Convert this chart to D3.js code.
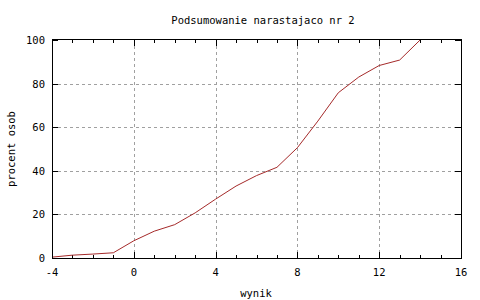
<!DOCTYPE html>
<html><head><meta charset="utf-8">
<script src="https://cdn.jsdelivr.net/npm/d3@7"></script>
<style>body{margin:0;background:#fff}text{font-family:"DejaVu Sans Mono",monospace;font-size:10.5px;fill:#000}</style>
</head><body><svg id="c" width="480" height="300"></svg>
<script>
const scores = [-4,-3,-2,-1,0,1,2,3,4,5,6,7,8,9,10,11,12,13,14];
const percent = [0.4,1.3,1.8,2.4,7.9,12.3,15.3,20.7,27,33,37.8,41.6,50.6,62.8,75.8,83,88.3,90.8,100];
const xTicks = [-4,0,4,8,12,16];
const yTicks = [0,20,40,60,80,100];
const title = "Podsumowanie narastajaco nr 2";
const xLabel = "wynik", yLabel = "procent osob";

const svg = d3.select("#c");
const L=52, R=461, T=40, B=258;
const x = d3.scaleLinear().domain([-4,16]).range([L,R]);
const y = d3.scaleLinear().domain([0,100]).range([B,T]);

// grid
const g = svg.append("g").attr("stroke","#a0a0a0").attr("stroke-dasharray","3,3").attr("shape-rendering","crispEdges");
xTicks.slice(1,-1).forEach(t=>g.append("line").attr("x1",Math.round(x(t))+0.5).attr("x2",Math.round(x(t))+0.5).attr("y1",T).attr("y2",B));
yTicks.slice(1,-1).forEach(t=>g.append("line").attr("y1",Math.round(y(t))+0.5).attr("y2",Math.round(y(t))+0.5).attr("x1",L).attr("x2",R));

// ticks
const tk = svg.append("g").attr("stroke","#000").attr("shape-rendering","crispEdges");
d3.range(-4,17,1).forEach(t=>{
  const len = xTicks.includes(t)?6:3; const px=Math.round(x(t))+0.5;
  tk.append("line").attr("x1",px).attr("x2",px).attr("y1",B).attr("y2",B-len);
  tk.append("line").attr("x1",px).attr("x2",px).attr("y1",T).attr("y2",T+len);
});
yTicks.forEach(t=>{
  const py=Math.round(y(t))+0.5;
  tk.append("line").attr("x1",L).attr("x2",L+6).attr("y1",py).attr("y2",py);
  tk.append("line").attr("x1",R).attr("x2",R-6).attr("y1",py).attr("y2",py);
});

// line
const line = d3.line().x((d,i)=>x(scores[i])).y(d=>y(d));
svg.append("path").datum(percent).attr("d",line).attr("fill","none").attr("stroke","#a52a2a").attr("stroke-width",1);

// border
svg.append("rect").attr("x",L+0.5).attr("y",T-0.5).attr("width",R-L).attr("height",B-T+1).attr("fill","none").attr("stroke","#000").attr("shape-rendering","crispEdges");

// labels
svg.append("g").selectAll("text").data(xTicks).join("text").attr("x",d=>x(d)).attr("y",276).attr("text-anchor","middle").text(d=>d);
svg.append("g").selectAll("text").data(yTicks).join("text").attr("x",45).attr("y",d=>y(d)+4).attr("text-anchor","end").text(d=>d);
svg.append("text").attr("x",263).attr("y",24).attr("text-anchor","middle").text(title);
svg.append("text").attr("x",256).attr("y",297).attr("text-anchor","middle").text(xLabel);
svg.append("text").attr("transform","translate(15,149) rotate(-90)").attr("text-anchor","middle").text(yLabel);
</script></body></html>
